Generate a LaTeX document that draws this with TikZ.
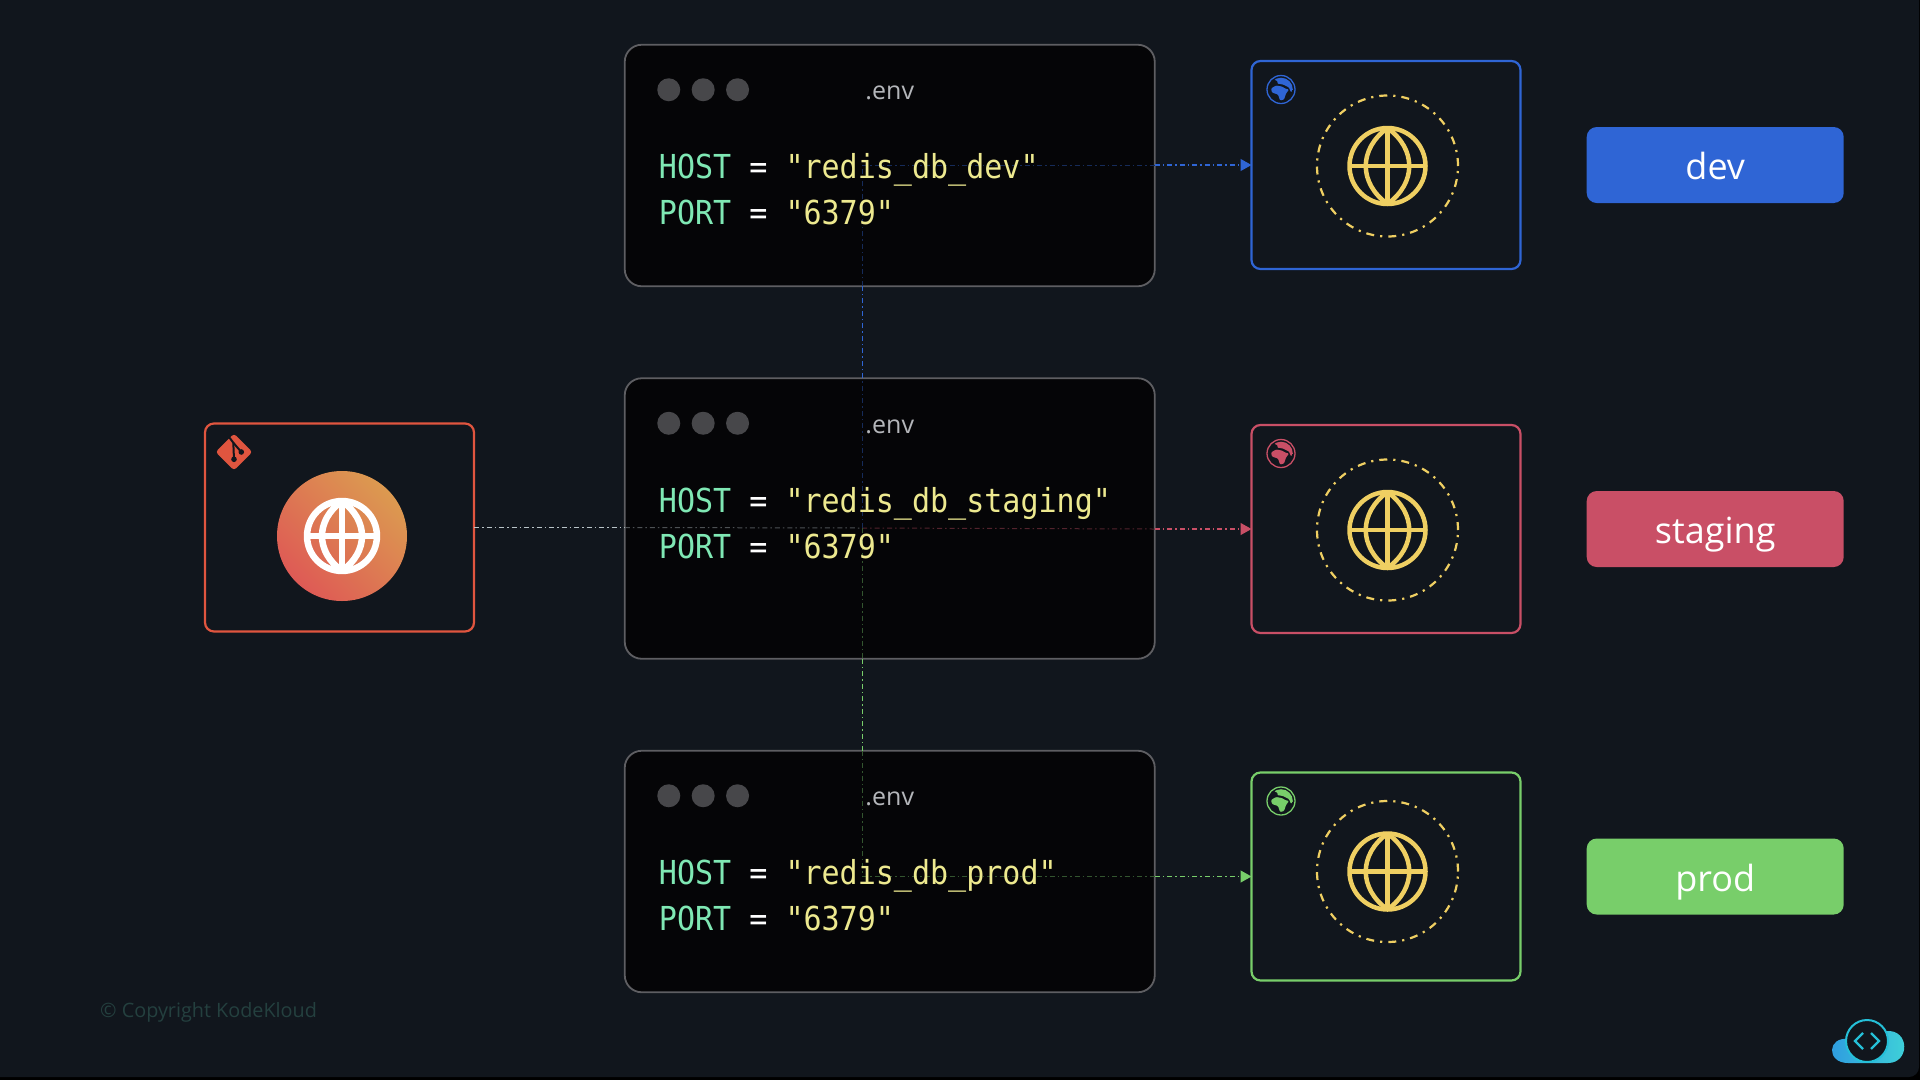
\documentclass[tikz,border=0pt]{standalone}
\usepackage{xcolor}
\usepackage{fontspec}
\usepackage{tikz}
\usetikzlibrary{arrows.meta,positioning,calc}
\setmainfont{Open Sans}
\newfontfamily\codefont[FakeStretch=0.91]{DejaVu Sans Mono}
\definecolor{Page}{HTML}{11161D}
\definecolor{Pane}{HTML}{050507}
\definecolor{Edge}{HTML}{5E5E62}
\definecolor{Knob}{HTML}{47474A}
\definecolor{Fore}{HTML}{B4B6BA}
\definecolor{Mint}{HTML}{7FE8B4}
\definecolor{Straw}{HTML}{EDE98F}
\definecolor{Gold}{HTML}{EFCF62}
\definecolor{Coral}{HTML}{E0553F}
\definecolor{Ember}{HTML}{DE5A55}
\definecolor{Sand}{HTML}{DC9A50}
\definecolor{Blue}{HTML}{2F65D5}
\definecolor{Rose}{HTML}{C94F66}
\definecolor{Leaf}{HTML}{78CE6A}
\definecolor{Ash}{HTML}{B9C4C8}
\definecolor{Faint}{HTML}{24403F}
\definecolor{Sky}{HTML}{2E9AE0}
\definecolor{Aqua}{HTML}{3FD3D8}
\definecolor{Lagoon}{HTML}{25C0D8}
\tikzset{
  envbox/.style={draw=Edge, fill=Pane, rounded corners=17pt, line width=1.8pt, minimum width=530pt, outer sep=0pt},
  knob/.style={circle, fill=Knob, minimum size=23pt, inner sep=0pt},
  envname/.style={text=Fore, font=\fontsize{25}{30}\selectfont},
  codetext/.style={align=left, inner sep=0pt, text=Straw, font=\codefont\fontsize{33}{46}\selectfont},
  hostbox/.style={draw=#1, fill=Page, rounded corners=9pt, line width=2.2pt, minimum width=269pt, minimum height=208pt, outer sep=0pt},
  ring/.style={circle, draw=Gold, line width=2.2pt, minimum size=141pt, inner sep=0pt, dash pattern=on 8pt off 6pt on 2.2pt off 6pt},
  tagbox/.style={fill=#1, rounded corners=10pt, minimum width=257pt, minimum height=76pt, text=white, text height=36pt, text depth=7pt, font=\fontsize{36}{42}\selectfont},
  wire/.style={draw=#1, line width=1.2pt, dash pattern=on 5pt off 3pt on 1.5pt off 3pt},
  dimwire/.style={draw=#1!40!Pane, line width=1pt, dash pattern=on 5pt off 3pt on 1.5pt off 3pt},
  wirehead/.style={-{Triangle[length=11pt,width=12pt]}},
  webglobe/.pic={
    \draw[pic actions] (0,0) circle (38);
    \draw[pic actions] (-38,0) -- (38,0);
    \draw[pic actions] (0,-38) -- (0,38);
    \draw[pic actions] (0,-38) .. controls (-29,-17) and (-29,17) .. (0,38);
    \draw[pic actions] (0,-38) .. controls (29,-17) and (29,17) .. (0,38);
  },
  earthmark/.pic={
    \draw[#1, line width=1.3pt] (0,0) circle (14);
    \begin{scope}
      \clip (0,0) circle (11.8);
      \fill[#1, rounded corners=1pt] (-10,-1) -- (-5,-4) -- (1,-3) -- (4,-1) -- (8,0) -- (5,4) -- (3,10) -- (-1,11) -- (-3,5) -- (-9,3) -- cycle;
      \fill[#1, rounded corners=1pt] (-7,-10) -- (-3,-8) -- (-4,-6) -- (2,-5) -- (6,-3) -- (8,-2) -- (10,3) -- (13,-1) -- (13,-14) -- (-5,-14) -- cycle;
    \end{scope}
  },
  gitmark/.pic={
    \fill[Coral, rounded corners=3pt, rotate=45] (-13,-13) rectangle (13,13);
    \draw[Page, line width=2pt] (-5,-15) -- (-0.7,-9.3) -- (0,7.3);
    \draw[Page, line width=2pt] (-0.7,-9.3) -- (7.3,0);
    \fill[Page] (0,7.3) circle (2.8);
    \fill[Page] (7.3,0) circle (2.8);
  }
}

\begin{document}
\begin{tikzpicture}[x=1pt, y=-1pt]
  \useasboundingbox (0,0) rectangle (1920,1080);
  \fill[black] (0,0) rectangle (1920,1080);
  \fill[Page, rounded corners=10pt] (-20,-20) rectangle (1919,1077);

  % config panes
  \node[envbox, minimum height=241.5pt] (envdev) at (889.75,165.5) {};
  \node[envbox, below=92pt of envdev, minimum height=280.5pt] (envstg) {};
  \node[envbox, below=92pt of envstg, minimum height=241.5pt] (envprod) {};

  % hosts
  \node[hostbox=Coral] (src) at (339.5,527.5) {};
  \node[hostbox=Blue] (tgtdev) at (1386,165) {};
  \node[hostbox=Rose] (tgtstg) at (1386,529) {};
  \node[hostbox=Leaf] (tgtprod) at (1386,876.5) {};

  % tags
  \node[tagbox=Blue, right=66pt of tgtdev] (tagdev) {dev};
  \node[tagbox=Rose, right=66pt of tgtstg] (tagstg) {staging};
  \node[tagbox=Leaf, right=66pt of tgtprod] (tagprod) {prod};

  % wires
  \coordinate (bus) at (862,528);
  \coordinate (stgin) at (src.east -| envstg.west);
  \coordinate (stgout) at (tgtstg.west -| envstg.east);
  \coordinate (devout) at (tgtdev.west -| envdev.east);
  \coordinate (prodout) at (tgtprod.west -| envprod.east);
  \draw[wire=Ash] (src.east) -- (stgin);
  \draw[dimwire=Ash] (stgin) -- (bus);
  \draw[dimwire=Rose] (bus) -- (stgout);
  \draw[wire=Rose, wirehead] (stgout) -- (tgtstg.west);
  \draw[dimwire=Blue] (bus) -- (bus |- envstg.north);
  \draw[wire=Blue, line width=0.8pt] (bus |- envstg.north) -- (bus |- envdev.south);
  \draw[dimwire=Blue] (bus |- envdev.south) -- (bus |- devout);
  \draw[dimwire=Blue] (bus |- devout) -- (devout);
  \draw[wire=Blue, wirehead] (devout) -- (tgtdev.west);
  \draw[dimwire=Leaf] (bus) -- (bus |- envstg.south);
  \draw[wire=Leaf, line width=0.8pt] (bus |- envstg.south) -- (bus |- envprod.north);
  \draw[dimwire=Leaf] (bus |- envprod.north) -- (bus |- prodout);
  \draw[dimwire=Leaf] (bus |- prodout) -- (prodout);
  \draw[wire=Leaf, wirehead] (prodout) -- (tgtprod.west);

  % dev pane
  \node[knob] (devk1) at ([shift={(44,45)}]envdev.north west) {};
  \node[knob, right=11pt of devk1] (devk2) {};
  \node[knob, right=11pt of devk2] (devk3) {};
  \node[envname] (devname) at ([shift={(0,48.5)}]envdev.north) {.env};
  \node[codetext, below right=108.5pt and 34pt of envdev.north west] (devcode) {\textcolor{Mint}{HOST} \textcolor{white}{=} "redis\_db\_dev"\\\textcolor{Mint}{PORT} \textcolor{white}{=} "6379"};

  % staging pane
  \node[knob] (stgk1) at ([shift={(44,45)}]envstg.north west) {};
  \node[knob, right=11pt of stgk1] (stgk2) {};
  \node[knob, right=11pt of stgk2] (stgk3) {};
  \node[envname] (stgname) at ([shift={(0,48.5)}]envstg.north) {.env};
  \node[codetext, below right=108.5pt and 34pt of envstg.north west] (stgcode) {\textcolor{Mint}{HOST} \textcolor{white}{=} "redis\_db\_staging"\\\textcolor{Mint}{PORT} \textcolor{white}{=} "6379"};

  % prod pane
  \node[knob] (prodk1) at ([shift={(44,45)}]envprod.north west) {};
  \node[knob, right=11pt of prodk1] (prodk2) {};
  \node[knob, right=11pt of prodk2] (prodk3) {};
  \node[envname] (prodname) at ([shift={(0,48.5)}]envprod.north) {.env};
  \node[codetext, below right=108.5pt and 34pt of envprod.north west] (prodcode) {\textcolor{Mint}{HOST} \textcolor{white}{=} "redis\_db\_prod"\\\textcolor{Mint}{PORT} \textcolor{white}{=} "6379"};

  % source contents
  \node[circle, minimum size=130pt, inner sep=0pt, bottom color=Ember, top color=Sand, shading angle=-45] (srcdisc) at ([shift={(2.5,8.5)}]src.center) {};
  \pic[draw=white, line width=6.5pt, scale=0.92] at (srcdisc) {webglobe};
  \pic at ([shift={(29,28.5)}]src.north west) {gitmark};

  % target contents
  \node[ring] (ringdev) at ([shift={(1.5,1)}]tgtdev.center) {};
  \node[ring] (ringstg) at ([shift={(1.5,1)}]tgtstg.center) {};
  \node[ring] (ringprod) at ([shift={(1.5,-5)}]tgtprod.center) {};
  \pic[draw=Gold, line width=4.5pt] at (ringdev) {webglobe};
  \pic[draw=Gold, line width=4.5pt] at (ringstg) {webglobe};
  \pic[draw=Gold, line width=4.5pt] at (ringprod) {webglobe};
  \pic at ([shift={(29.5,28.5)}]tgtdev.north west) {earthmark=Blue};
  \pic at ([shift={(29.5,28.5)}]tgtstg.north west) {earthmark=Rose};
  \pic at ([shift={(29.5,28.5)}]tgtprod.north west) {earthmark=Leaf};

  % footer
  \node[anchor=base west, inner sep=0pt, text=Faint, font=\fontsize{19.8}{24}\selectfont] (copy) at (100,1017) {© Copyright KodeKloud};
  \shade[left color=Sky, right color=Aqua] (1848,1063) .. controls (1826,1063) and (1827,1036) .. (1849,1039) .. controls (1855,1018) and (1880,1018) .. (1886,1031) .. controls (1910,1029) and (1910,1063) .. (1888,1063) -- cycle;
  \node[circle, draw=Lagoon, fill=Page, line width=2pt, minimum size=42pt, inner sep=0pt] (logo) at (1867,1041) {};
  \draw[Lagoon, line width=2.2pt] ([shift={(-4,-8)}]logo.center) -- ([shift={(-12,0)}]logo.center) -- ([shift={(-4,8)}]logo.center);
  \draw[Lagoon, line width=2.2pt] ([shift={(4,-8)}]logo.center) -- ([shift={(12,0)}]logo.center) -- ([shift={(4,8)}]logo.center);
\end{tikzpicture}
\end{document}
